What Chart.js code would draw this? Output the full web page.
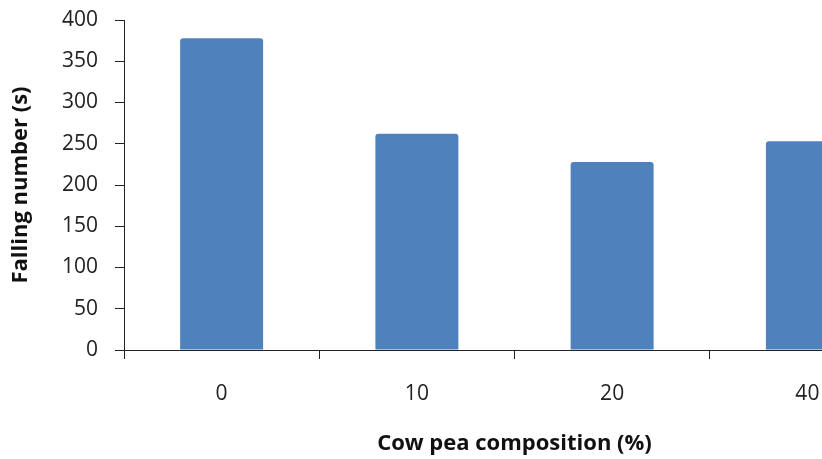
<!DOCTYPE html>
<html lang="en">
<head>
  <meta charset="UTF-8" />
  <title>Falling number vs cow pea composition</title>
  <script src="https://cdn.jsdelivr.net/npm/chart.js"></script>
  <style>
    html, body {
      margin: 0;
      padding: 0;
      background: #fff;
      overflow: hidden;
    }
    canvas {
      display: block;
    }
  </style>
</head>
<body>
  <canvas id="chart" width="905" height="459"></canvas>

  <script>
    // values
    const categories = ["0", "10", "20", "40"];
    const fallingNumber = [378, 262, 228, 253];
    const yTicks = [0, 50, 100, 150, 200, 250, 300, 350, 400];

    const tickFont = { family: "Open Sans", size: 21 };
    const titleFont = { family: "Open Sans", size: 22, weight: "bold" };

    const ctx = document.getElementById("chart").getContext("2d");

    new Chart(ctx, {
      type: "bar",
      data: {
        labels: categories,
        datasets: [
          {
            label: "Falling number (s)",
            data: fallingNumber,
            backgroundColor: "#4f81bd",
            borderRadius: 3,
            categoryPercentage: 1,
            barPercentage: 0.425,
          },
        ],
      },
      options: {
        responsive: false,
        animation: false,
        layout: {
          padding: { top: 20, left: 0, right: 0, bottom: 0 },
        },
        plugins: {
          legend: { display: false },
          tooltip: { enabled: false },
        },
        scales: {
          x: {
            grid: {
              display: true,
              drawOnChartArea: false,
              color: "#222",
              tickLength: 9,
              offset: true,
            },
            border: { color: "#222", width: 1 },
            ticks: { font: tickFont, color: "#222", padding: 22 },
            title: {
              display: true,
              text: "Cow pea composition (%)",
              font: titleFont,
              color: "#111",
              padding: { top: 0, bottom: 2 },
            },
            afterFit: (s) => { s.height = 109; },
          },
          y: {
            min: 0,
            max: 400,
            afterBuildTicks: (s) => { s.ticks = yTicks.map(v => ({ value: v })); },
            grid: {
              display: true,
              drawOnChartArea: false,
              color: "#222",
              tickLength: 9,
            },
            border: { color: "#222", width: 1 },
            ticks: { font: tickFont, color: "#222", padding: 17 },
            title: {
              display: true,
              text: "Falling number (s)",
              font: titleFont,
              color: "#111",
              padding: { top: 8, bottom: 0 },
            },
            afterFit: (s) => {
              s.width = 124;
              s.paddingTop = 0;
              s.paddingBottom = 0;
            },
          },
        },
      },
    });
  </script>
</body>
</html>
